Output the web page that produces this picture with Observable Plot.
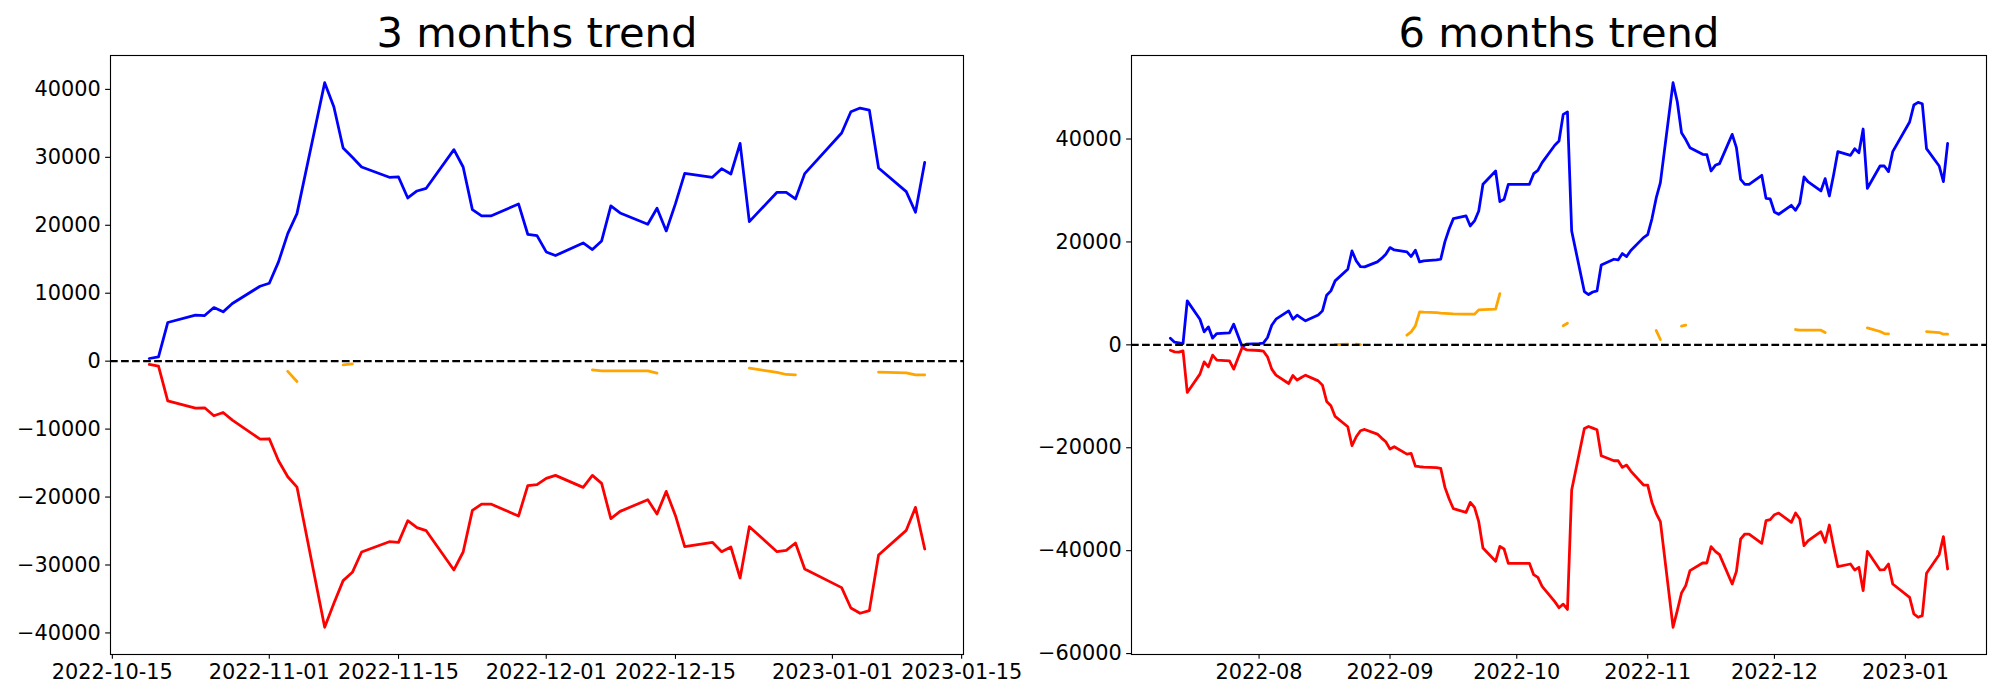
<!DOCTYPE html>
<html>
<head>
<meta charset="utf-8">
<script src="https://cdn.jsdelivr.net/npm/d3@7"></script>
<script src="https://cdn.jsdelivr.net/npm/@observablehq/plot@0.6"></script>
<style>
  html, body { margin: 0; padding: 0; background: white; }
  #wrap { display: flex; width: 2000px; height: 700px; }
  #wrap > div { width: 1000px; height: 700px; position: relative; }
  #p3 { z-index: 2; }
  #p6 { z-index: 1; }
</style>
</head>
<body>
<div id="wrap"><div id="p3"></div><div id="p6"></div></div>
<script>
// ---------- 3 months trend ----------
const title3 = "3 months trend";
const dates3 = ["2022-10-19","2022-10-20","2022-10-21","2022-10-24","2022-10-25","2022-10-26","2022-10-27","2022-10-28","2022-10-31",
  "2022-11-01","2022-11-02","2022-11-03","2022-11-04","2022-11-07","2022-11-08","2022-11-09","2022-11-10","2022-11-11","2022-11-14","2022-11-15","2022-11-16","2022-11-17","2022-11-18","2022-11-21","2022-11-22","2022-11-23","2022-11-24","2022-11-25","2022-11-28","2022-11-29","2022-11-30",
  "2022-12-01","2022-12-02","2022-12-05","2022-12-06","2022-12-07","2022-12-08","2022-12-09","2022-12-12","2022-12-13","2022-12-14","2022-12-15","2022-12-16","2022-12-19","2022-12-20","2022-12-21","2022-12-22","2022-12-23","2022-12-26","2022-12-27","2022-12-28","2022-12-29",
  "2023-01-02","2023-01-03","2023-01-04","2023-01-05","2023-01-06","2023-01-09","2023-01-10","2023-01-11"];
const blue3 = [392,637,5686,6765,6716,7892,7255,8480,11029,
  11470,14608,18775,21716,40980,37402,31373,30000,28578,27059,27108,24020,25049,25441,31127,28578,22304,21373,21373,23137,18676,18480,
  16078,15539,17402,16422,17696,22843,21814,20147,22500,19167,23186,27647,27059,28333,27549,32059,20539,24853,24853,23873,27598,
  33578,36716,37255,36961,28431,24951,21912,29265];
const red3 = [-490,-735,-5833,-6912,-6863,-8039,-7549,-8676,-11471,
  -11422,-14657,-17010,-18529,-39167,-35637,-32304,-31078,-28088,-26569,-26667,-23480,-24510,-24951,-30735,-28088,-21961,-21029,-21029,-22794,-18333,-18186,
  -17255,-16814,-18578,-16814,-17990,-23186,-22108,-20392,-22500,-19167,-22745,-27304,-26667,-28039,-27353,-31912,-24363,-28039,-27843,-26765,-30588,
  -33333,-36324,-37108,-36716,-28529,-24902,-21520,-27647];
const orange3 = [null,null,null,null,null,null,null,null,null,
  null,null,-1500,-3000,null,null,-550,-400,null,null,null,null,null,null,null,null,null,null,null,null,null,null,
  null,null,null,-1275,-1422,-1422,-1422,-1422,-1765,null,null,null,null,null,null,null,-1029,-1650,-1961,-2010,null,
  null,null,null,null,-1618,-1716,-2010,-2010];
const xTicks3 = ["2022-10-15","2022-11-01","2022-11-15","2022-12-01","2022-12-15","2023-01-01","2023-01-15"];
const yTicks3 = [-40000,-30000,-20000,-10000,0,10000,20000,30000,40000];

// ---------- 6 months trend ----------
const title6 = "6 months trend";
const dates6 = [
  "2022-07-11","2022-07-12","2022-07-13","2022-07-14","2022-07-15","2022-07-18","2022-07-19","2022-07-20","2022-07-21","2022-07-22","2022-07-25","2022-07-26","2022-07-27","2022-07-28","2022-07-29",
  "2022-08-01","2022-08-02","2022-08-03","2022-08-04","2022-08-05","2022-08-08","2022-08-09","2022-08-10","2022-08-11","2022-08-12","2022-08-15","2022-08-16","2022-08-17","2022-08-18","2022-08-19","2022-08-22","2022-08-23","2022-08-24","2022-08-25","2022-08-26","2022-08-29","2022-08-30","2022-08-31",
  "2022-09-01","2022-09-02","2022-09-05","2022-09-06","2022-09-07","2022-09-08","2022-09-09","2022-09-12","2022-09-13","2022-09-14","2022-09-15","2022-09-16","2022-09-19","2022-09-20","2022-09-21","2022-09-22","2022-09-23","2022-09-26","2022-09-27","2022-09-28","2022-09-29","2022-09-30",
  "2022-10-03","2022-10-04","2022-10-05","2022-10-06","2022-10-07","2022-10-10","2022-10-11","2022-10-12","2022-10-13","2022-10-14","2022-10-17","2022-10-18","2022-10-19","2022-10-20","2022-10-21","2022-10-24","2022-10-25","2022-10-26","2022-10-27","2022-10-28","2022-10-31",
  "2022-11-01","2022-11-02","2022-11-03","2022-11-04","2022-11-07","2022-11-08","2022-11-09","2022-11-10","2022-11-11","2022-11-14","2022-11-15","2022-11-16","2022-11-17","2022-11-18","2022-11-21","2022-11-22","2022-11-23","2022-11-24","2022-11-25","2022-11-28","2022-11-29","2022-11-30",
  "2022-12-01","2022-12-02","2022-12-05","2022-12-06","2022-12-07","2022-12-08","2022-12-09","2022-12-12","2022-12-13","2022-12-14","2022-12-15","2022-12-16","2022-12-19","2022-12-20","2022-12-21","2022-12-22","2022-12-23","2022-12-26","2022-12-27","2022-12-28","2022-12-29",
  "2023-01-02","2023-01-03","2023-01-04","2023-01-05","2023-01-06","2023-01-09","2023-01-10","2023-01-11"];
const blue6 = [
  1294,518,400,259,8544,4984,2524,3495,1294,2200,2330,4013,1800,-388,130,
  250,324,1424,3819,4984,6602,4984,5761,5200,4660,5800,6602,9644,10485,12427,14693,18252,16311,15210,15146,16117,16800,17605,
  18900,18447,18058,17152,18382,16117,16300,16500,16634,20065,22500,24531,25049,23107,24078,26019,31197,33786,27832,28285,31197,31197,
  31197,31197,33269,33916,35405,38800,39612,44790,45243,22136,10356,9773,10272,10485,15534,16634,16505,17735,17152,18350,20841,
  21424,24500,28500,31521,50939,47249,41230,39900,38317,37023,36958,33786,34887,35210,40906,38317,32168,31197,31197,32945,28479,28350,
  25825,25372,27120,26149,27508,32621,31650,29903,32298,28932,33000,37540,36828,38123,37346,41942,30421,34757,34757,33657,37540,
  43301,46602,47120,46861,38123,34757,31715,39159];
const red6 = [
  -1036,-1359,-1424,-1165,-9256,-5696,-3301,-4272,-2006,-2977,-3107,-4725,-2600,-518,-971,
  -1100,-1200,-2330,-4725,-5890,-7508,-5955,-6861,-6343,-5890,-7000,-7832,-11003,-11845,-13916,-15922,-19612,-17864,-16699,-16440,-17346,-18123,-18835,
  -20259,-19806,-21230,-21100,-23560,-23690,-23754,-23883,-24013,-27702,-29968,-31845,-32557,-30615,-31586,-34369,-39482,-42071,-39159,-39676,-42460,-42460,
  -42460,-42460,-44660,-45178,-46926,-49900,-51100,-50388,-51424,-28220,-16246,-15858,-16181,-16505,-21553,-22524,-22524,-23819,-23366,-24531,-27249,
  -27249,-30615,-32751,-34369,-54887,-51650,-48220,-46796,-43883,-42395,-42395,-39223,-40129,-40777,-46472,-44013,-37735,-36764,-36764,-38576,-34175,-33981,
  -33010,-32686,-34498,-32686,-33851,-39029,-38058,-36311,-38382,-35016,-39223,-43107,-42589,-43754,-43236,-47767,-40129,-43754,-43689,-42589,-46472,
  -49061,-52298,-52945,-52621,-44401,-40777,-37282,-43560];
const orange6 = [
  null,null,null,null,null,null,null,null,null,null,null,null,null,null,null,
  null,null,null,null,null,null,null,null,null,null,null,null,null,null,50,150,null,150,50,null,null,null,null,
  null,null,1877,2524,3689,6408,6350,6250,6149,6100,6050,6000,5955,5955,5955,6796,6860,6926,9968,null,null,null,
  null,null,null,null,null,null,null,3700,4200,null,null,null,null,null,null,null,null,null,null,null,null,
  null,null,2800,1036,null,null,3625,3819,null,null,null,null,null,null,null,null,null,null,null,null,null,null,
  null,null,null,2977,2848,2848,2848,2848,2395,null,null,null,null,null,null,null,3301,2600,2200,2136,null,
  null,null,null,null,2589,2395,2071,2071];
const xTicks6 = ["2022-08-01","2022-09-01","2022-10-01","2022-11-01","2022-12-01","2023-01-01"];
const yTicks6 = [-60000,-40000,-20000,0,20000,40000];

// ---------- drawing ----------
const PT = 100 / 72; // matplotlib points -> px at 100 dpi
const yFmt = d3.format("d");

function pad(extent) {
  const [a, b] = extent;
  const p = (b - a) * 0.05;
  return [a - p, b + p];
}

function panel(title, dates, blue, red, orange, xTicks, xFmt, yTicks, margins) {
  const rows = dates.map((d, i) => ({date: new Date(d), blue: blue[i], red: red[i], orange: orange[i]}));
  const tMs = d3.extent(rows, r => +r.date);
  const xd = pad(tMs).map(t => new Date(t));
  const allY = [...blue, ...red, ...orange.filter(v => v != null)];
  const yd = pad(d3.extent(allY));
  const lw = 2 * PT;
  const dlw = 1.5 * PT;
  return Plot.plot({
    width: 1000,
    height: 700,
    marginTop: 55,
    marginBottom: 46,
    marginLeft: margins[0],
    marginRight: margins[1],
    style: {fontFamily: "DejaVu Sans", fontSize: (15 * PT) + "px", color: "black", background: "transparent", overflow: "visible"},
    x: {type: "utc", domain: xd},
    y: {domain: yd},
    marks: [
      Plot.line(rows, {x: "date", y: "blue", stroke: "#0000ff", strokeWidth: lw}),
      Plot.line(rows, {x: "date", y: "red", stroke: "#ff0000", strokeWidth: lw}),
      Plot.line(rows, {x: "date", y: "orange", stroke: "#ffa500", strokeWidth: lw}),
      Plot.ruleY([0], {stroke: "black", strokeWidth: dlw, strokeDasharray: `${3.7 * dlw},${1.6 * dlw}`, strokeLinecap: "butt"}),
      Plot.frame({stroke: "black", strokeWidth: 0.8 * PT}),
      Plot.axisX({ticks: xTicks.map(d => new Date(d)), tickFormat: xFmt, tickSize: 3.5 * PT, tickPadding: 3.5 * PT,
                  fontSize: 15 * PT, strokeWidth: 0.8 * PT, label: null}),
      Plot.axisY({ticks: yTicks, tickFormat: yFmt, tickSize: 3.5 * PT, tickPadding: 3.5 * PT,
                  fontSize: 15 * PT, strokeWidth: 0.8 * PT, label: null}),
      Plot.text([title], {frameAnchor: "top", lineAnchor: "bottom", dy: -6 * PT, fontSize: 30 * PT, fill: "black"})
    ]
  });
}

document.getElementById("p3").append(
  panel(title3, dates3, blue3, red3, orange3, xTicks3, d3.utcFormat("%Y-%m-%d"), yTicks3, [110, 37]));
document.getElementById("p6").append(
  panel(title6, dates6, blue6, red6, orange6, xTicks6, d3.utcFormat("%Y-%m"), yTicks6, [131, 14]));
</script>
</body>
</html>
